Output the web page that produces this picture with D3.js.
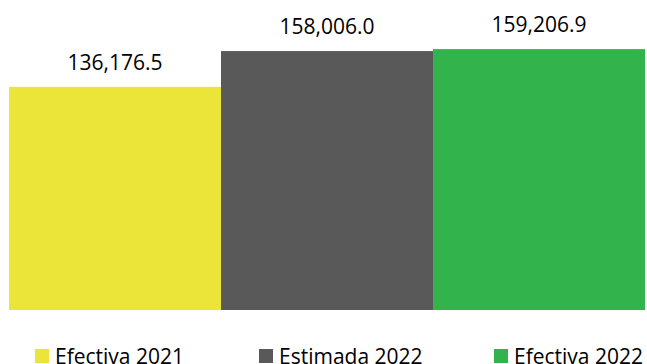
<!DOCTYPE html>
<html>
<head>
<meta charset="utf-8">
<script src="https://cdn.jsdelivr.net/npm/d3@7"></script>
<style>
  body { margin: 0; background: #fff; }
  text { font-family: "Open Sans", sans-serif; fill: #000; }
</style>
</head>
<body>
<div id="chart"></div>
<script>
const categories = ["Efectiva 2021", "Estimada 2022", "Efectiva 2022"]
const values = [136176.5, 158006.0, 159206.9]
const colors = ["#ebe539", "#595959", "#33b34b"]

const WIDTH = 647
const HEIGHT = 364

const svg = d3.select("#chart").append("svg")
  .attr("width", WIDTH)
  .attr("height", HEIGHT)

// scales
const x = d3.scaleBand().domain(categories).range([9, 645]).padding(0)
const y = d3.scaleLinear().domain([0, 160000]).range([310, 47.8])

const fmt = d3.format(",.1f")

// bars
svg.selectAll("rect.bar")
  .data(values)
  .enter().append("rect")
  .attr("class", "bar")
  .attr("x", (d, i) => x(categories[i]))
  .attr("width", x.bandwidth())
  .attr("y", d => y(d))
  .attr("height", d => y(0) - y(d))
  .attr("fill", (d, i) => colors[i])

// value labels
svg.selectAll("text.label")
  .data(values)
  .enter().append("text")
  .attr("class", "label")
  .attr("x", (d, i) => x(categories[i]) + x.bandwidth() / 2)
  .attr("y", d => y(d) - 17)
  .attr("text-anchor", "middle")
  .attr("font-size", "21px")
  .text(d => fmt(d))

// legend
const legendX = [35, 259, 494]
const legend = svg.selectAll("g.legend")
  .data(categories)
  .enter().append("g")
  .attr("class", "legend")
  .attr("transform", (d, i) => `translate(${legendX[i]}, 349)`)

legend.append("rect")
  .attr("width", 14)
  .attr("height", 14)
  .attr("fill", (d, i) => colors[i])

legend.append("text")
  .attr("x", 20)
  .attr("y", 15)
  .attr("font-size", "21px")
  .text(d => d)
</script>
</body>
</html>
